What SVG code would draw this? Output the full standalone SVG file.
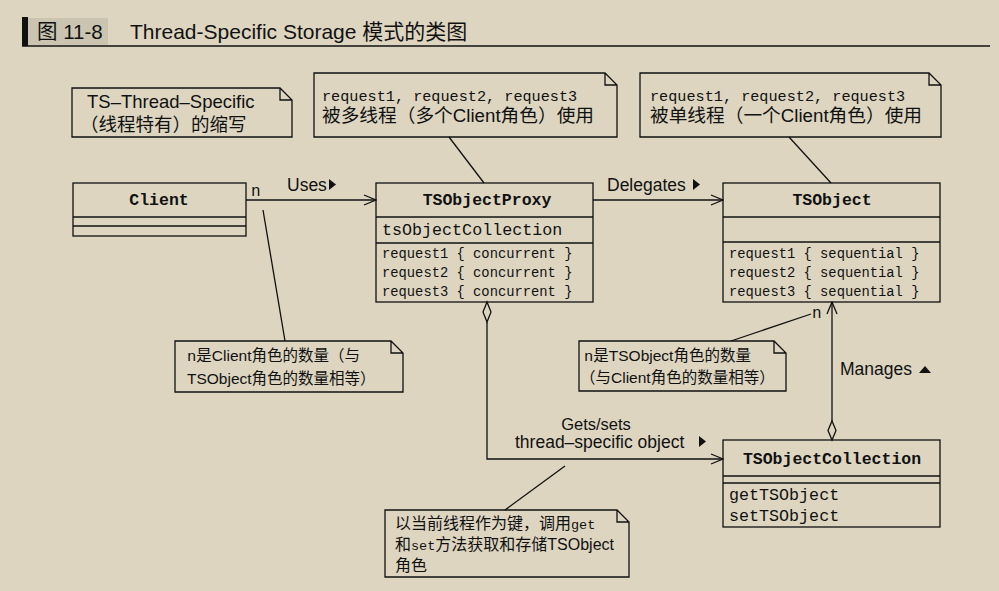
<svg xmlns="http://www.w3.org/2000/svg" width="999" height="591" viewBox="0 0 999 591">
<style>
.bg{fill:#ddd5c0}
.box{fill:none;stroke:#111;stroke-width:1.3}
.ln{fill:none;stroke:#111;stroke-width:1.3}
.sans{font-family:"Liberation Sans","Noto Sans CJK SC",sans-serif;fill:#111}
.cjk{font-family:"Liberation Sans","Noto Sans CJK SC",sans-serif;fill:#111}
.mono{font-family:"Liberation Mono","Noto Sans CJK SC",monospace;fill:#111}
.bold{font-weight:bold}
.lbl{font-size:17.5px}
</style>
<defs>
<marker id="open" markerWidth="14" markerHeight="12" refX="13" refY="6" orient="auto" markerUnits="userSpaceOnUse">
<path d="M1,1 L13,6 L1,11" fill="none" stroke="#111" stroke-width="1.3"/>
</marker>
</defs>
<rect class="bg" x="0" y="0" width="999" height="591"/>
<g id="title">
<rect x="22" y="17" width="6" height="29" fill="#111"/>
<rect x="28" y="18" width="80" height="27" fill="#cbc4b0"/>
<text class="cjk" x="37" y="39" font-size="20.5">图 11-8</text>
<text class="cjk" x="130" y="39" font-size="21">Thread-Specific Storage 模式的类图</text>
<line x1="22" y1="46" x2="990" y2="46" stroke="#111" stroke-width="1.5"/>
</g>
<g id="connectors">
<line class="ln" x1="246" y1="200" x2="376" y2="200" marker-end="url(#open)"/>
<line class="ln" x1="593" y1="200" x2="723" y2="200" marker-end="url(#open)"/>
<polyline class="ln" points="487,322 487,459 723,459" marker-end="url(#open)"/>
<path d="M487,302 L491,312 L487,322 L483,312 Z" fill="#ddd5c0" stroke="#111" stroke-width="1.3"/>
<line class="ln" x1="832" y1="421" x2="832" y2="302" marker-end="url(#open)"/>
<path d="M832,421 L836,430.5 L832,440 L828,430.5 Z" fill="#ddd5c0" stroke="#111" stroke-width="1.3"/>
<line class="ln" x1="449" y1="137" x2="484" y2="183"/>
<line class="ln" x1="789" y1="137" x2="831" y2="183"/>
<line class="ln" x1="263" y1="210" x2="285" y2="341"/>
<line class="ln" x1="811" y1="314" x2="731" y2="341"/>
<line class="ln" x1="565" y1="466" x2="505" y2="510"/>
<text class="mono" x="251" y="196" font-size="16">n</text>
<text class="sans lbl" x="287" y="191">Uses</text>
<path d="M329,179 L336,184.5 L329,190 Z" fill="#111"/>
<text class="sans lbl" x="607" y="191">Delegates</text>
<path d="M693,179 L700,184.5 L693,190 Z" fill="#111"/>
<text class="sans" x="596" y="430" font-size="16.5" text-anchor="middle">Gets/sets</text>
<text class="sans" x="515" y="448" font-size="17.5">thread–specific object</text>
<path d="M699,436 L706,441.5 L699,447 Z" fill="#111"/>
<text class="mono" x="812" y="318" font-size="16">n</text>
<text class="sans lbl" x="840" y="375" font-size="18">Manages</text>
<path d="M919,373 L925,366 L931,373 Z" fill="#111"/>
</g>
<g id="note-ts">
<path class="box" d="M72,88 L280,88 L292,100 L292,137 L72,137 Z M280,88 L280,100 L292,100"/>
<text class="cjk" x="87" y="108" font-size="18.5">TS–Thread–Specific</text>
<text class="cjk" x="80" y="131" font-size="18.5">（线程特有）的缩写</text>
</g>
<g id="note-proxy">
<path class="box" d="M314,73 L605,73 L617,85 L617,137 L314,137 Z M605,73 L605,85 L617,85"/>
<text class="mono" x="322" y="101" font-size="15.2">request1, request2, request3</text>
<text class="cjk" x="322" y="122" font-size="18.7">被多线程（多个Client角色）使用</text>
</g>
<g id="note-tsobject">
<path class="box" d="M640,73 L929,73 L941,85 L941,137 L640,137 Z M929,73 L929,85 L941,85"/>
<text class="mono" x="650" y="101" font-size="15.2">request1, request2, request3</text>
<text class="cjk" x="650" y="122" font-size="18.7">被单线程（一个Client角色）使用</text>
</g>
<g id="client">
<rect class="box" x="73" y="183" width="173" height="53"/>
<line class="ln" x1="73" y1="217" x2="246" y2="217"/>
<line class="ln" x1="73" y1="226" x2="246" y2="226"/>
<text class="mono bold" x="159" y="205" font-size="16.5" text-anchor="middle">Client</text>
</g>
<g id="tsobjectproxy">
<rect class="box" x="376" y="183" width="217" height="119"/>
<line class="ln" x1="376" y1="217" x2="593" y2="217"/>
<line class="ln" x1="376" y1="243" x2="593" y2="243"/>
<text class="mono bold" x="487" y="205" font-size="16.5" text-anchor="middle">TSObjectProxy</text>
<text class="mono" x="382" y="235" font-size="16.7">tsObjectCollection</text>
<text class="mono" x="382" y="258" font-size="13.8">request1 { concurrent }</text>
<text class="mono" x="382" y="277" font-size="13.8">request2 { concurrent }</text>
<text class="mono" x="382" y="296" font-size="13.8">request3 { concurrent }</text>
</g>
<g id="tsobject">
<rect class="box" x="723" y="183" width="217" height="119"/>
<line class="ln" x1="723" y1="217" x2="940" y2="217"/>
<line class="ln" x1="723" y1="242" x2="940" y2="242"/>
<text class="mono bold" x="832" y="205" font-size="16.5" text-anchor="middle">TSObject</text>
<text class="mono" x="729" y="258" font-size="13.8">request1 { sequential }</text>
<text class="mono" x="729" y="277" font-size="13.8">request2 { sequential }</text>
<text class="mono" x="729" y="296" font-size="13.8">request3 { sequential }</text>
</g>
<g id="tsobjectcollection">
<rect class="box" x="723" y="440" width="217" height="87"/>
<line class="ln" x1="723" y1="476" x2="940" y2="476"/>
<line class="ln" x1="723" y1="483" x2="940" y2="483"/>
<text class="mono bold" x="832" y="464" font-size="16.5" text-anchor="middle">TSObjectCollection</text>
<text class="mono" x="729" y="500" font-size="16.7">getTSObject</text>
<text class="mono" x="729" y="521" font-size="16.7">setTSObject</text>
</g>
<g id="note-n-client">
<path class="box" d="M175,341 L391,341 L403,353 L403,392 L175,392 Z M391,341 L391,353 L403,353"/>
<text class="cjk" x="187" y="361" font-size="15.5"><tspan class="mono">n</tspan>是Client角色的数量（与</text>
<text class="cjk" x="187" y="384" font-size="15.5">TSObject角色的数量相等）</text>
</g>
<g id="note-n-tsobject">
<path class="box" d="M579,341 L774,341 L786,353 L786,391 L579,391 Z M774,341 L774,353 L786,353"/>
<text class="cjk" x="584" y="361" font-size="15.5"><tspan class="mono">n</tspan>是TSObject角色的数量</text>
<text class="cjk" x="580" y="383" font-size="15.5">（与Client角色的数量相等）</text>
</g>
<g id="note-getset">
<path class="box" d="M385,510 L617,510 L629,522 L629,577 L385,577 Z M617,510 L617,522 L629,522"/>
<text class="cjk" x="395" y="529" font-size="16">以当前线程作为键，调用<tspan class="mono" font-size="13.5">get</tspan></text>
<text class="cjk" x="395" y="550" font-size="16">和<tspan class="mono" font-size="13.5">set</tspan>方法获取和存储TSObject</text>
<text class="cjk" x="395" y="571" font-size="16">角色</text>
</g>
</svg>
